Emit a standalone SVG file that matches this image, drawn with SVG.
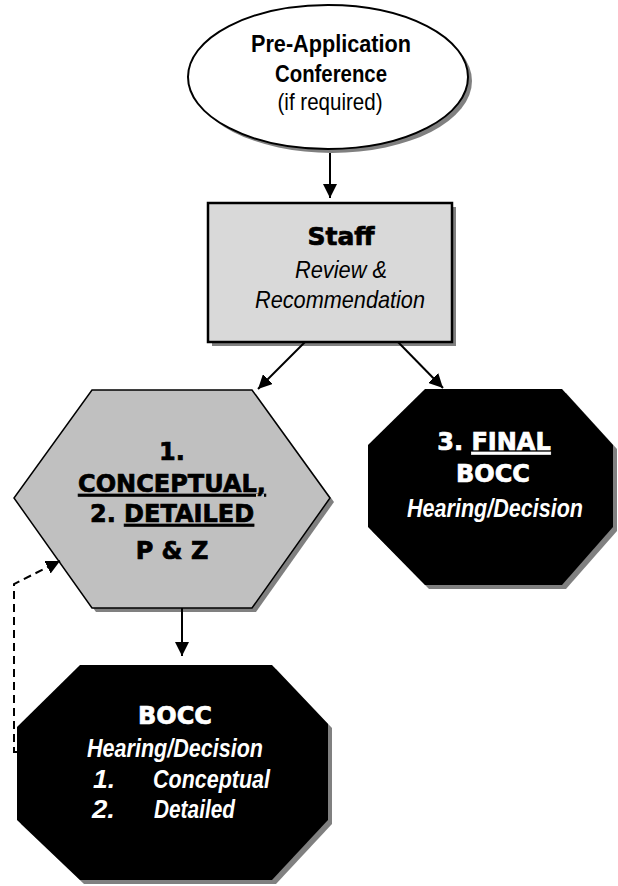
<svg xmlns="http://www.w3.org/2000/svg" width="618" height="886" viewBox="0 0 618 886">
<style>
.shadow{fill:#808080;stroke:none}
.nar{font-family:"Liberation Sans",Arial,sans-serif;text-anchor:middle}
.st{text-anchor:start}
.blk{font-family:"DejaVu Sans","Liberation Sans",sans-serif;font-weight:bold;text-anchor:middle;stroke:#000;stroke-width:0.7}
.conn{stroke:#000;stroke-width:2;fill:none}
.w{fill:#fff}
.blk.w{stroke:#fff}
</style>
<defs>
<marker id="ah" viewBox="0 0 10 10" refX="10" refY="5" markerWidth="14" markerHeight="14" markerUnits="userSpaceOnUse" orient="auto">
<path d="M0,0 L10,5 L0,10 z" fill="#000"/>
</marker>
</defs>
<rect width="618" height="886" fill="#fff"/>
<g id="preapp">
<ellipse class="shadow" cx="332" cy="81" rx="140" ry="72"/>
<ellipse cx="328" cy="77" rx="140" ry="72" fill="#fff" stroke="#000" stroke-width="2"/>
<text class="nar" x="331" y="52" font-size="24" font-weight="bold" textLength="160" lengthAdjust="spacingAndGlyphs">Pre-Application</text>
<text class="nar" x="331" y="82" font-size="24" font-weight="bold" textLength="112" lengthAdjust="spacingAndGlyphs">Conference</text>
<text class="nar" x="330" y="110" font-size="24" textLength="105" lengthAdjust="spacingAndGlyphs">(if required)</text>
</g>
<g id="staff">
<rect class="shadow" x="212" y="207" width="244" height="139"/>
<rect x="208" y="203" width="244" height="139" fill="#d9d9d9" stroke="#000" stroke-width="2.5"/>
<text class="blk" x="341" y="245" font-size="25">Staff</text>
<text class="nar" x="341" y="278" font-size="23" font-style="italic" textLength="92" lengthAdjust="spacingAndGlyphs">Review &amp;</text>
<text class="nar" x="340" y="308" font-size="24" font-style="italic" textLength="170" lengthAdjust="spacingAndGlyphs">Recommendation</text>
</g>
<g id="pz">
<polygon class="shadow" points="96,394 256,394 334,502 256,612 96,612 18,502"/>
<polygon points="92,390 252,390 330,498 252,608 92,608 14,498" fill="#c0c0c0" stroke="#000" stroke-width="1.5"/>
<text class="blk" x="172" y="460" font-size="24">1.</text>
<text class="blk" x="172" y="492" font-size="24" text-decoration="underline">CONCEPTUAL,</text>
<text class="blk" x="172" y="522" font-size="24">2. <tspan text-decoration="underline">DETAILED</tspan></text>
<text class="blk" x="172" y="559" font-size="24">P &amp; Z</text>
</g>
<g id="final">
<polygon class="shadow" points="429,393 566,393 617,449 617,531 566,589 429,589 372,531 372,449"/>
<polygon points="425,389 562,389 613,445 613,527 562,585 425,585 368,527 368,445" fill="#000"/>
<text class="blk w" x="494" y="450" font-size="24">3. <tspan text-decoration="underline">FINAL</tspan></text>
<text class="blk w" x="493" y="482" font-size="24">BOCC</text>
<text class="nar w" x="495" y="517" font-size="26" font-weight="bold" font-style="italic" textLength="176" lengthAdjust="spacingAndGlyphs">Hearing/Decision</text>
</g>
<g id="bocc">
<polygon class="shadow" points="84,669 276,669 332,728 332,824 276,884 84,884 21,824 21,731"/>
<polygon points="80,665 272,665 328,724 328,820 272,880 80,880 17,820 17,727" fill="#000"/>
<text class="blk w" x="175" y="724" font-size="24">BOCC</text>
<text class="nar w" x="175" y="757" font-size="26" font-weight="bold" font-style="italic" textLength="176" lengthAdjust="spacingAndGlyphs">Hearing/Decision</text>
<text class="nar w st" x="93" y="788" font-size="26" font-weight="bold" font-style="italic" textLength="22" lengthAdjust="spacingAndGlyphs">1.</text>
<text class="nar w st" x="153" y="788" font-size="26" font-weight="bold" font-style="italic" textLength="117" lengthAdjust="spacingAndGlyphs">Conceptual</text>
<text class="nar w st" x="92" y="818" font-size="26" font-weight="bold" font-style="italic" textLength="23" lengthAdjust="spacingAndGlyphs">2.</text>
<text class="nar w st" x="154" y="818" font-size="26" font-weight="bold" font-style="italic" textLength="81" lengthAdjust="spacingAndGlyphs">Detailed</text>
</g>
<g id="connectors">
<line class="conn" x1="330" y1="153" x2="330" y2="198" marker-end="url(#ah)"/>
<line class="conn" x1="305" y1="342" x2="258" y2="389" marker-end="url(#ah)"/>
<line class="conn" x1="398" y1="342" x2="443" y2="388" marker-end="url(#ah)"/>
<line class="conn" x1="182" y1="608" x2="182" y2="656" marker-end="url(#ah)"/>
<path class="conn" d="M17,752 L14,752 L14,584 L60,561" stroke-dasharray="8,5" marker-end="url(#ah)"/>
</g>
</svg>
